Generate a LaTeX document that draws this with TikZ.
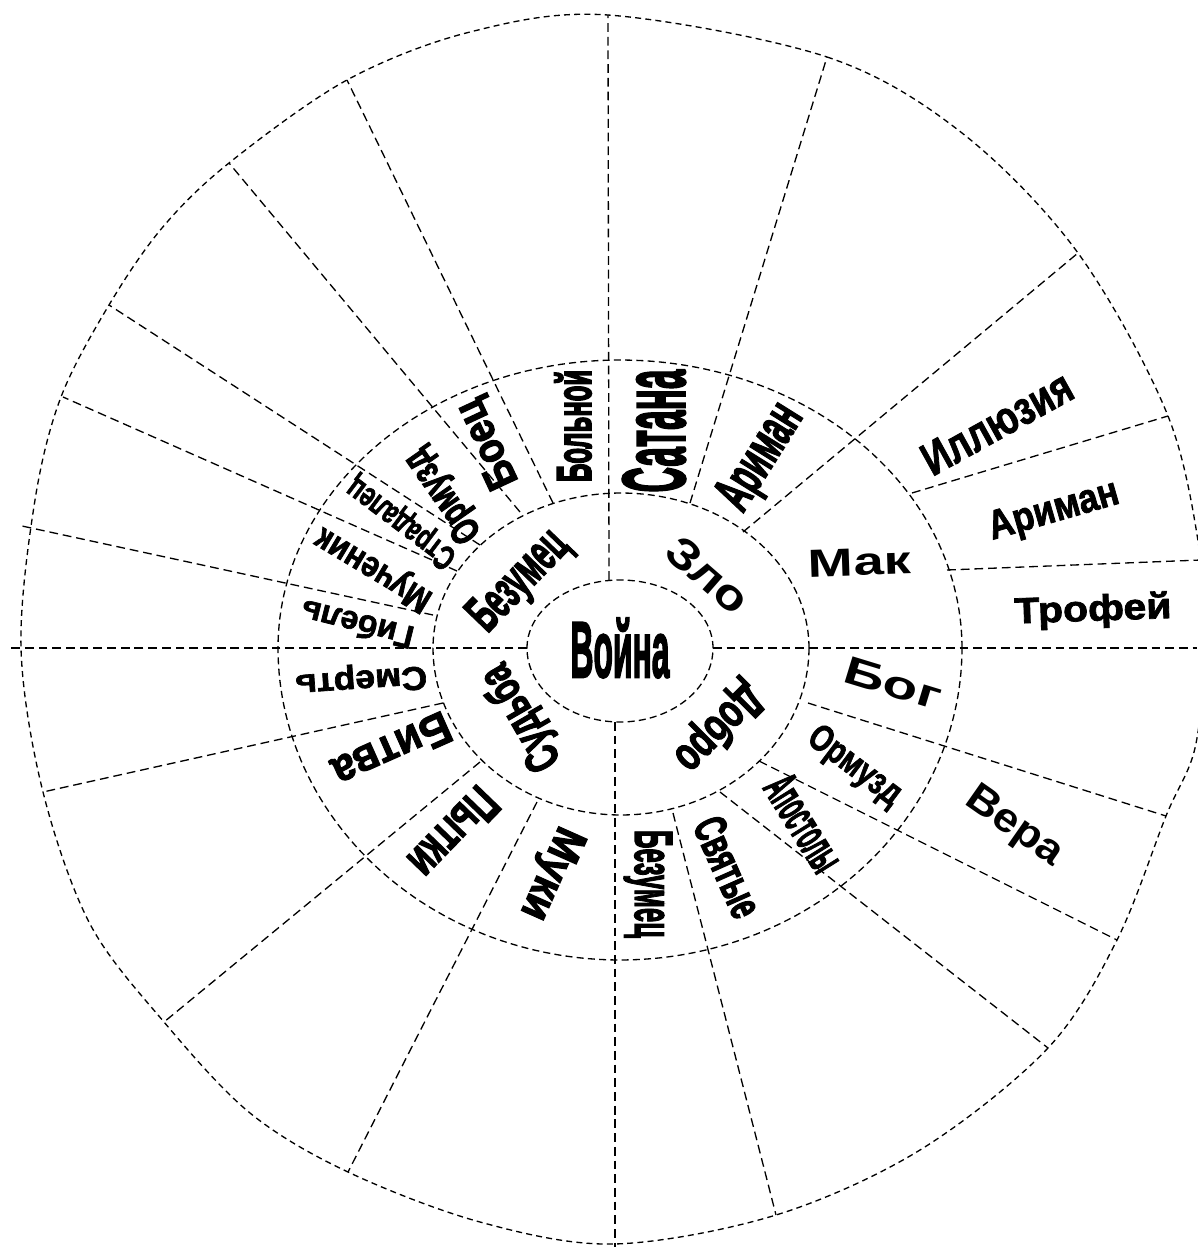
\documentclass[tikz,border=0pt]{standalone}
\usepackage{fontspec}
\setmainfont{Liberation Sans}
\newfontfamily\hvA{Liberation Sans}
\newfontfamily\hvB{Liberation Sans}[BoldFeatures={FakeBold=2}]
\newfontfamily\hvC{Liberation Sans}[BoldFeatures={FakeBold=3}]
\newfontfamily\hvD{Liberation Sans}[BoldFeatures={FakeBold=4.5}]
\usepackage{graphicx}
\newlength\pxu
\setlength\pxu{0.02cm}
\newcommand\WR[4][\hvA]{\resizebox{#2\pxu}{#3\pxu}{#1\bfseries #4}}
\tikzset{
  ring/.style={line width=0.75pt, dash pattern=on 4pt off 2.4pt},
  spoke/.style={line width=0.75pt, dash pattern=on 5pt off 2.8pt},
  rim/.style={line width=0.75pt, dash pattern=on 3.4pt off 2.4pt},
  word/.style={inner sep=0pt, outer sep=0pt},
}
\begin{document}
\begin{tikzpicture}[x=0.02cm, y=-0.02cm]
\useasboundingbox (0,0) rectangle (1197,1247);

% rings
\draw[ring] plot[domain=0:180, samples=72] ({620+93*cos(\x)},{648-68*sin(\x)})
  -- plot[domain=180:360, samples=72] ({620+93*cos(\x)},{648-74*sin(\x)}) -- cycle;
\draw[ring] plot[domain=0:180, samples=90] ({621+188*cos(\x)},{648-155*sin(\x)})
  -- plot[domain=180:360, samples=90] ({621+188*cos(\x)},{648-167*sin(\x)}) -- cycle;
\draw[ring] plot[domain=0:180, samples=120] ({620+342*cos(\x)},{648-288*sin(\x)})
  -- plot[domain=180:360, samples=120] ({620+342*cos(\x)},{648-312*sin(\x)}) -- cycle;
% outer rim
\draw[rim] plot[smooth cycle, tension=0.55] coordinates {
  (608,15) (827,57) (962,133) (1078,253) (1168,416) (1201,560) (1205,648) (1195,748)
  (1166,816) (1117,940) (1048,1048) (920,1150) (776,1215) (614,1244) (480,1222)
  (348,1172) (250,1113) (164,1022) (90,924) (43,792) (21,648) (35,500) (61,397)
  (109,305) (162,228) (229,163) (347,80) (470,32)};

% axes
\coordinate (vt0) at (609,580); \coordinate (vt1) at (608,15);
\coordinate (vb0) at (615,722); \coordinate (vb1) at (615,1247);
\coordinate (hl0) at (527,648); \coordinate (hl1) at (8,648);
\coordinate (hr0) at (713,648); \coordinate (hr1) at (1197,648);
\draw[spoke] (vt0) -- (vt1);
\draw[spoke] (vb0) -- (vb1);
\draw[spoke] (hl0) -- (hl1);
\draw[spoke] (hr0) -- (hr1);

% spokes: upper right
\draw[spoke] (690,503) -- (827,57);
\draw[spoke] (743,532) -- (1078,253);
\draw[spoke] (912,493) -- (1168,416);
\draw[spoke] (947,570) -- (1201,560);
% lower right
\draw[spoke] (808,703) -- (1166,816);
\draw[spoke] (759,761) -- (1117,940);
\draw[spoke] (720,792) -- (1048,1048);
\draw[spoke] (673,813) -- (776,1215);
% lower left
\draw[spoke] (537,802) -- (348,1172);
\draw[spoke] (480,762) -- (164,1022);
\draw[spoke] (443,703) -- (43,792);
% upper left
\draw[spoke] (433,615) -- (22,526);
\draw[spoke] (457,571) -- (63,397);
\draw[spoke] (480,545) -- (109,305);
\draw[spoke] (520,512) -- (229,163);
\draw[spoke] (553,503) -- (347,80);

% centre
\node[word] (voyna) at (620,648) {\WR[\hvC]{99}{59}{Война}};
% ring 1
\node[word, rotate=-41] (zlo) at (708,575) {\WR{95}{30}{Зло}};
\node[word, rotate=-135] (dobro) at (718,727) {\WR[\hvC]{105}{35}{Добро}};
\node[word, rotate=120] (sudba) at (522,717) {\WR[\hvC]{115}{35}{Судьба}};
\node[word, rotate=46] (bezumecA) at (520,582) {\WR[\hvC]{120}{36}{Безумец}};
% ring 2, upper right
\node[word, rotate=90] (satana) at (654,431) {\WR[\hvC]{123}{62}{Сатана}};
\node[word, rotate=58] (arimanA) at (762,458) {\WR[\hvC]{115}{38}{Ариман}};
\node[word, rotate=2] (mak) at (860,562) {\WR{103}{27}{Мак}};
% ring 2, lower right
\node[word, rotate=-17] (bog) at (893,683) {\WR{100}{27}{Бог}};
\node[word, rotate=-37] (ormuzdA) at (854,767) {\WR[\hvB]{108}{26}{Ормузд}};
\node[word, rotate=-58] (apostoly) at (804,823) {\WR[\hvC]{104}{34}{Апостолы}};
\node[word, rotate=-66] (svyatye) at (728,867) {\WR[\hvC]{105}{32}{Святые}};
\node[word, rotate=-90] (bezumecB) at (648,884) {\WR[\hvC]{108}{37}{Безумец}};
% ring 2, lower left
\node[word, rotate=-114] (muki) at (550,873) {\WR[\hvC]{97}{31}{Муки}};
\node[word, rotate=-134] (pytki) at (454,833) {\WR[\hvC]{105}{35}{Пытки}};
\node[word, rotate=-156] (bitva) at (392,750) {\WR[\hvB]{125}{32}{Битва}};
\node[word, rotate=-176] (smert) at (361,679) {\WR[\hvB]{132}{23}{Смерть}};
% ring 2, upper left
\node[word, rotate=166] (gibel) at (357,625) {\WR[\hvB]{115}{24}{Гибель}};
\node[word, rotate=149] (muchenik) at (374,568) {\WR[\hvB]{130}{25}{Мученик}};
\node[word, rotate=143] (stradalec) at (402,522) {\WR[\hvB]{128}{24}{Страдалец}};
\node[word, rotate=125] (ormuzdB) at (444,495) {\WR[\hvC]{105}{28}{Ормузд}};
\node[word, rotate=115] (boec) at (489,443) {\WR[\hvC]{94}{30}{Боец}};
\node[word, rotate=90] (bolnoy) at (573,426) {\WR[\hvD]{112}{36}{Больной}};
% outer ring
\node[word, rotate=29] (illyuziya) at (997,423) {\WR[\hvB]{165}{32}{Иллюзия}};
\node[word, rotate=16] (arimanB) at (1054,512) {\WR[\hvB]{134}{28}{Ариман}};
\node[word, rotate=2] (trofey) at (1093,611) {\WR[\hvB]{157}{27}{Трофей}};
\node[word, rotate=-35] (vera) at (1014,827) {\WR{110}{28}{Вера}};
\end{tikzpicture}
\end{document}
